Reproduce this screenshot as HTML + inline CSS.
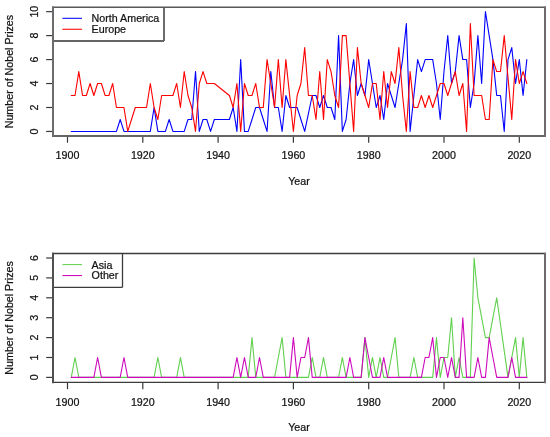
<!DOCTYPE html>
<html><head><meta charset="utf-8"><style>
html,body{margin:0;padding:0;background:#fff;}
svg{display:block;}
.wrap{will-change:transform;}
text{font-family:"Liberation Sans",sans-serif;font-size:10.7px;fill:#111;stroke:#111;stroke-width:0.22px;}
</style></head><body>
<div class="wrap"><svg width="550" height="437" viewBox="0 0 550 437">
<rect width="550" height="437" fill="#fff"/>
<line x1="67.50" y1="136.45" x2="67.50" y2="142.75" stroke="#383838" stroke-width="1.2"/>
<text x="67.50" y="159.25" text-anchor="middle">1900</text>
<line x1="142.80" y1="136.45" x2="142.80" y2="142.75" stroke="#383838" stroke-width="1.2"/>
<text x="142.80" y="159.25" text-anchor="middle">1920</text>
<line x1="218.10" y1="136.45" x2="218.10" y2="142.75" stroke="#383838" stroke-width="1.2"/>
<text x="218.10" y="159.25" text-anchor="middle">1940</text>
<line x1="293.40" y1="136.45" x2="293.40" y2="142.75" stroke="#383838" stroke-width="1.2"/>
<text x="293.40" y="159.25" text-anchor="middle">1960</text>
<line x1="368.70" y1="136.45" x2="368.70" y2="142.75" stroke="#383838" stroke-width="1.2"/>
<text x="368.70" y="159.25" text-anchor="middle">1980</text>
<line x1="444.00" y1="136.45" x2="444.00" y2="142.75" stroke="#383838" stroke-width="1.2"/>
<text x="444.00" y="159.25" text-anchor="middle">2000</text>
<line x1="519.30" y1="136.45" x2="519.30" y2="142.75" stroke="#383838" stroke-width="1.2"/>
<text x="519.30" y="159.25" text-anchor="middle">2020</text>
<text x="299" y="185.05" text-anchor="middle">Year</text>
<line x1="46.20" y1="131.45" x2="52.50" y2="131.45" stroke="#383838" stroke-width="1.2"/>
<text transform="translate(37.9,131.45) rotate(-90)" text-anchor="middle">0</text>
<line x1="46.20" y1="107.49" x2="52.50" y2="107.49" stroke="#383838" stroke-width="1.2"/>
<text transform="translate(37.9,107.49) rotate(-90)" text-anchor="middle">2</text>
<line x1="46.20" y1="83.53" x2="52.50" y2="83.53" stroke="#383838" stroke-width="1.2"/>
<text transform="translate(37.9,83.53) rotate(-90)" text-anchor="middle">4</text>
<line x1="46.20" y1="59.57" x2="52.50" y2="59.57" stroke="#383838" stroke-width="1.2"/>
<text transform="translate(37.9,59.57) rotate(-90)" text-anchor="middle">6</text>
<line x1="46.20" y1="35.61" x2="52.50" y2="35.61" stroke="#383838" stroke-width="1.2"/>
<text transform="translate(37.9,35.61) rotate(-90)" text-anchor="middle">8</text>
<line x1="46.20" y1="11.65" x2="52.50" y2="11.65" stroke="#383838" stroke-width="1.2"/>
<text transform="translate(37.9,11.65) rotate(-90)" text-anchor="middle">10</text>
<text transform="translate(12.5,71.57) rotate(-90)" text-anchor="middle">Number of Nobel Prizes</text>
<polyline points="71.27,131.45 75.03,131.45 78.80,131.45 82.56,131.45 86.33,131.45 90.09,131.45 93.86,131.45 97.62,131.45 101.38,131.45 105.15,131.45 108.91,131.45 112.68,131.45 116.44,131.45 120.21,119.47 123.97,131.45 127.74,131.45 131.50,131.45 135.27,131.45 139.03,131.45 142.80,131.45 146.56,131.45 150.33,131.45 154.09,107.49 157.86,131.45 161.62,131.45 165.39,131.45 169.16,119.47 172.92,131.45 176.69,131.45 180.45,131.45 184.22,131.45 187.98,119.47 191.75,119.47 195.51,71.55 199.28,131.45 203.04,119.47 206.81,119.47 210.57,131.45 214.34,119.47 229.40,119.47 233.16,107.49 236.93,131.45 240.69,59.57 244.46,131.45 248.22,131.45 251.99,119.47 255.75,107.49 259.51,107.49 263.28,119.47 267.05,131.45 270.81,71.55 274.58,107.49 278.34,107.49 282.11,131.45 285.87,95.51 289.63,107.49 293.40,107.49 297.17,107.49 300.93,119.47 304.70,131.45 308.46,113.48 312.23,95.51 315.99,95.51 319.75,107.49 323.52,95.51 327.29,107.49 331.05,107.49 334.81,119.47 338.58,35.61 342.35,131.45 346.11,119.47 349.88,83.53 353.64,59.57 357.41,95.51 361.17,83.53 364.94,95.51 368.70,59.57 372.47,83.53 376.23,107.49 380.00,95.51 383.76,119.47 387.53,83.53 391.29,95.51 395.06,107.49 398.82,83.53 402.59,59.57 406.35,23.63 410.12,131.45 413.88,95.51 417.65,59.57 421.41,71.55 425.18,59.57 428.94,59.57 432.70,59.57 436.47,83.53 440.24,119.47 444.00,71.55 447.76,35.61 451.53,83.53 455.30,71.55 459.06,35.61 462.82,59.57 466.59,59.57 470.36,107.49 474.12,83.53 477.88,35.61 481.65,83.53 485.42,11.65 489.18,35.61 492.94,59.57 496.71,95.51 500.48,95.51 504.24,131.45 508.00,59.57 511.77,47.59 515.54,83.53 519.30,59.57 523.07,95.51 526.83,59.57" fill="none" stroke="#0000ff" stroke-width="1.1" stroke-linejoin="round" stroke-linecap="round"/>
<polyline points="71.27,95.51 75.03,95.51 78.80,71.55 82.56,95.51 86.33,95.51 90.09,83.53 93.86,95.51 97.62,83.53 101.38,83.53 105.15,95.51 108.91,95.51 112.68,83.53 116.44,107.49 120.21,107.49 123.97,107.49 127.74,131.45 131.50,119.47 135.27,107.49 139.03,107.49 142.80,107.49 146.56,107.49 150.33,83.53 154.09,107.49 157.86,119.47 161.62,95.51 165.39,95.51 169.16,95.51 172.92,95.51 176.69,83.53 180.45,107.49 184.22,71.55 187.98,95.51 191.75,107.49 195.51,131.45 199.28,83.53 203.04,71.55 206.81,83.53 210.57,83.53 214.34,83.53 229.40,95.51 233.16,107.49 236.93,83.53 240.69,131.45 244.46,83.53 248.22,95.51 251.99,95.51 255.75,83.53 259.51,107.49 263.28,107.49 267.05,59.57 270.81,83.53 274.58,107.49 278.34,59.57 282.11,107.49 285.87,59.57 289.63,95.51 293.40,131.45 297.17,95.51 300.93,83.53 304.70,47.59 308.46,95.51 312.23,95.51 315.99,119.47 319.75,71.55 323.52,119.47 327.29,59.57 331.05,71.55 334.81,95.51 338.58,107.49 342.35,35.61 346.11,35.61 349.88,83.53 353.64,131.45 357.41,47.59 361.17,83.53 364.94,95.51 368.70,107.49 372.47,83.53 376.23,83.53 380.00,119.47 383.76,71.55 387.53,107.49 391.29,71.55 395.06,83.53 398.82,47.59 402.59,95.51 406.35,131.45 410.12,71.55 413.88,107.49 417.65,107.49 421.41,95.51 425.18,107.49 428.94,95.51 432.70,107.49 436.47,95.51 440.24,83.53 444.00,83.53 447.76,95.51 451.53,83.53 455.30,71.55 459.06,95.51 462.82,83.53 466.59,131.45 470.36,23.63 474.12,95.51 477.88,95.51 481.65,95.51 485.42,119.47 489.18,119.47 492.94,59.57 496.71,71.55 500.48,71.55 504.24,35.61 508.00,77.54 511.77,119.47 515.54,59.57 519.30,83.53 523.07,71.55 526.83,83.53" fill="none" stroke="#ff0000" stroke-width="1.1" stroke-linejoin="round" stroke-linecap="round"/>
<rect x="53.0" y="7.2" width="111.00" height="33.70" fill="#fff"/>
<line x1="62.4" y1="18.30" x2="82" y2="18.30" stroke="#0000ff" stroke-width="1.05"/>
<text x="91.6" y="22.20">North America</text>
<line x1="62.4" y1="29.25" x2="82" y2="29.25" stroke="#ff0000" stroke-width="1.05"/>
<text x="91.6" y="33.15">Europe</text>
<line x1="164.00" y1="7.20" x2="164.00" y2="40.90" stroke="#6c6c6c" stroke-width="2.0"/>
<line x1="53.00" y1="40.90" x2="164.00" y2="40.90" stroke="#646464" stroke-width="2.0"/>
<line x1="52.00" y1="7.20" x2="546.00" y2="7.20" stroke="#585858" stroke-width="1.6"/>
<line x1="52.00" y1="135.95" x2="546.00" y2="135.95" stroke="#646464" stroke-width="2.0"/>
<line x1="53.00" y1="6.40" x2="53.00" y2="136.75" stroke="#6c6c6c" stroke-width="2.0"/>
<line x1="545.00" y1="6.40" x2="545.00" y2="136.75" stroke="#6c6c6c" stroke-width="2.0"/>
<line x1="67.50" y1="382.85" x2="67.50" y2="389.15" stroke="#383838" stroke-width="1.2"/>
<text x="67.50" y="405.65" text-anchor="middle">1900</text>
<line x1="142.80" y1="382.85" x2="142.80" y2="389.15" stroke="#383838" stroke-width="1.2"/>
<text x="142.80" y="405.65" text-anchor="middle">1920</text>
<line x1="218.10" y1="382.85" x2="218.10" y2="389.15" stroke="#383838" stroke-width="1.2"/>
<text x="218.10" y="405.65" text-anchor="middle">1940</text>
<line x1="293.40" y1="382.85" x2="293.40" y2="389.15" stroke="#383838" stroke-width="1.2"/>
<text x="293.40" y="405.65" text-anchor="middle">1960</text>
<line x1="368.70" y1="382.85" x2="368.70" y2="389.15" stroke="#383838" stroke-width="1.2"/>
<text x="368.70" y="405.65" text-anchor="middle">1980</text>
<line x1="444.00" y1="382.85" x2="444.00" y2="389.15" stroke="#383838" stroke-width="1.2"/>
<text x="444.00" y="405.65" text-anchor="middle">2000</text>
<line x1="519.30" y1="382.85" x2="519.30" y2="389.15" stroke="#383838" stroke-width="1.2"/>
<text x="519.30" y="405.65" text-anchor="middle">2020</text>
<text x="299" y="431.45" text-anchor="middle">Year</text>
<line x1="46.20" y1="377.40" x2="52.50" y2="377.40" stroke="#383838" stroke-width="1.2"/>
<text transform="translate(37.9,377.40) rotate(-90)" text-anchor="middle">0</text>
<line x1="46.20" y1="357.50" x2="52.50" y2="357.50" stroke="#383838" stroke-width="1.2"/>
<text transform="translate(37.9,357.50) rotate(-90)" text-anchor="middle">1</text>
<line x1="46.20" y1="337.60" x2="52.50" y2="337.60" stroke="#383838" stroke-width="1.2"/>
<text transform="translate(37.9,337.60) rotate(-90)" text-anchor="middle">2</text>
<line x1="46.20" y1="317.70" x2="52.50" y2="317.70" stroke="#383838" stroke-width="1.2"/>
<text transform="translate(37.9,317.70) rotate(-90)" text-anchor="middle">3</text>
<line x1="46.20" y1="297.80" x2="52.50" y2="297.80" stroke="#383838" stroke-width="1.2"/>
<text transform="translate(37.9,297.80) rotate(-90)" text-anchor="middle">4</text>
<line x1="46.20" y1="277.90" x2="52.50" y2="277.90" stroke="#383838" stroke-width="1.2"/>
<text transform="translate(37.9,277.90) rotate(-90)" text-anchor="middle">5</text>
<line x1="46.20" y1="258.00" x2="52.50" y2="258.00" stroke="#383838" stroke-width="1.2"/>
<text transform="translate(37.9,258.00) rotate(-90)" text-anchor="middle">6</text>
<text transform="translate(12.5,317.93) rotate(-90)" text-anchor="middle">Number of Nobel Prizes</text>
<polyline points="71.27,377.40 75.03,357.50 78.80,377.40 82.56,377.40 86.33,377.40 90.09,377.40 93.86,377.40 97.62,377.40 101.38,377.40 105.15,377.40 108.91,377.40 112.68,377.40 116.44,377.40 120.21,377.40 123.97,377.40 127.74,377.40 131.50,377.40 135.27,377.40 139.03,377.40 142.80,377.40 146.56,377.40 150.33,377.40 154.09,377.40 157.86,357.50 161.62,377.40 165.39,377.40 169.16,377.40 172.92,377.40 176.69,377.40 180.45,357.50 184.22,377.40 187.98,377.40 191.75,377.40 195.51,377.40 199.28,377.40 203.04,377.40 206.81,377.40 210.57,377.40 214.34,377.40 229.40,377.40 233.16,377.40 236.93,377.40 240.69,377.40 244.46,377.40 248.22,377.40 251.99,337.60 255.75,377.40 259.51,377.40 263.28,377.40 267.05,377.40 270.81,377.40 274.58,377.40 278.34,357.50 282.11,337.60 285.87,377.40 289.63,377.40 293.40,377.40 297.17,377.40 300.93,377.40 304.70,377.40 308.46,377.40 312.23,357.50 315.99,377.40 319.75,377.40 323.52,357.50 327.29,377.40 331.05,377.40 334.81,377.40 338.58,377.40 342.35,357.50 346.11,377.40 349.88,377.40 353.64,377.40 357.41,377.40 361.17,377.40 364.94,337.60 368.70,377.40 372.47,357.50 376.23,377.40 380.00,357.50 383.76,377.40 387.53,377.40 391.29,357.50 395.06,337.60 398.82,377.40 402.59,377.40 406.35,377.40 410.12,377.40 413.88,357.50 417.65,377.40 421.41,377.40 425.18,377.40 428.94,377.40 432.70,377.40 436.47,337.60 440.24,377.40 444.00,357.50 447.76,357.50 451.53,317.70 455.30,377.40 459.06,357.50 462.82,377.40 466.59,377.40 470.36,377.40 474.12,258.00 477.88,297.80 481.65,317.70 485.42,337.60 489.18,337.60 492.94,317.70 496.71,297.80 500.48,324.27 504.24,350.93 508.00,377.40 511.77,357.50 515.54,337.60 519.30,377.40 523.07,337.60 526.83,377.40" fill="none" stroke="#61d04f" stroke-width="1.1" stroke-linejoin="round" stroke-linecap="round"/>
<polyline points="71.27,377.40 75.03,377.40 78.80,377.40 82.56,377.40 86.33,377.40 90.09,377.40 93.86,377.40 97.62,357.50 101.38,377.40 105.15,377.40 108.91,377.40 112.68,377.40 116.44,377.40 120.21,377.40 123.97,357.50 127.74,377.40 131.50,377.40 135.27,377.40 139.03,377.40 142.80,377.40 146.56,377.40 150.33,377.40 154.09,377.40 157.86,377.40 161.62,377.40 165.39,377.40 169.16,377.40 172.92,377.40 176.69,377.40 180.45,377.40 184.22,377.40 187.98,377.40 191.75,377.40 195.51,377.40 199.28,377.40 203.04,377.40 206.81,377.40 210.57,377.40 214.34,377.40 229.40,377.40 233.16,377.40 236.93,357.50 240.69,377.40 244.46,357.50 248.22,377.40 251.99,377.40 255.75,377.40 259.51,357.50 263.28,377.40 267.05,377.40 270.81,377.40 274.58,377.40 278.34,377.40 282.11,377.40 285.87,377.40 289.63,377.40 293.40,337.60 297.17,377.40 300.93,357.50 304.70,357.50 308.46,337.60 312.23,377.40 315.99,377.40 319.75,377.40 323.52,377.40 327.29,377.40 331.05,377.40 334.81,377.40 338.58,377.40 342.35,377.40 346.11,377.40 349.88,357.50 353.64,377.40 357.41,377.40 361.17,377.40 364.94,337.60 368.70,357.50 372.47,377.40 376.23,377.40 380.00,377.40 383.76,357.50 387.53,377.40 391.29,377.40 395.06,377.40 398.82,377.40 402.59,377.40 406.35,377.40 410.12,377.40 413.88,377.40 417.65,377.40 421.41,377.40 425.18,357.50 428.94,357.50 432.70,337.60 436.47,377.40 440.24,357.50 444.00,357.50 447.76,377.40 451.53,357.50 455.30,377.40 459.06,377.40 462.82,317.70 466.59,377.40 470.36,377.40 474.12,377.40 477.88,357.50 481.65,377.40 485.42,377.40 489.18,337.60 492.94,357.50 496.71,377.40 500.48,377.40 504.24,377.40 508.00,377.40 511.77,357.50 515.54,377.40 519.30,377.40 523.07,377.40 526.83,377.40" fill="none" stroke="#cd0bbc" stroke-width="1.1" stroke-linejoin="round" stroke-linecap="round"/>
<rect x="53.0" y="253.5" width="69.50" height="33.80" fill="#fff"/>
<line x1="62.4" y1="264.60" x2="82" y2="264.60" stroke="#61d04f" stroke-width="1.05"/>
<text x="91.6" y="268.50">Asia</text>
<line x1="62.4" y1="275.55" x2="82" y2="275.55" stroke="#cd0bbc" stroke-width="1.05"/>
<text x="91.6" y="279.45">Other</text>
<line x1="122.50" y1="253.50" x2="122.50" y2="287.30" stroke="#3c3c3c" stroke-width="1.3"/>
<line x1="53.00" y1="287.30" x2="122.50" y2="287.30" stroke="#3c3c3c" stroke-width="1.3"/>
<line x1="52.00" y1="253.50" x2="546.00" y2="253.50" stroke="#3c3c3c" stroke-width="1.4"/>
<line x1="52.00" y1="382.35" x2="546.00" y2="382.35" stroke="#3c3c3c" stroke-width="1.4"/>
<line x1="53.00" y1="252.70" x2="53.00" y2="383.15" stroke="#505050" stroke-width="2.0"/>
<line x1="545.00" y1="252.70" x2="545.00" y2="383.15" stroke="#6c6c6c" stroke-width="2.0"/>
</svg></div>
</body></html>
